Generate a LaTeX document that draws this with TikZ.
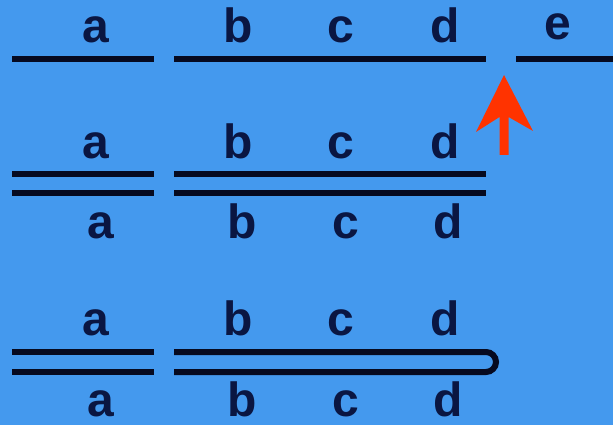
\documentclass[tikz,border=0pt]{standalone}
\usepackage{fontspec}
\setmainfont{Liberation Sans}
\definecolor{bg}{RGB}{68,153,238}
\definecolor{ink}{RGB}{10,22,66}
\definecolor{bar}{RGB}{6,10,32}
\definecolor{redarrow}{RGB}{255,51,0}
\begin{document}
\begin{tikzpicture}[x=1pt,y=-1pt,
  lbl/.style={anchor=base,inner sep=0pt,text=ink,font=\fontsize{48}{56}\selectfont\bfseries},
  bar/.style={draw=bar,line width=6pt}]
\fill[bg] (0,0) rectangle (613,425);
\useasboundingbox (0,0) rectangle (613,425);
% row 1
\node[lbl] (a1) at (96,43) {a};
\node[lbl] (b1) at (238,43) {b};
\node[lbl] (c1) at (341,43) {c};
\node[lbl] (d1) at (445,43) {d};
\node[lbl] (e1) at (558,40) {e};
\coordinate (r1a0) at (12,59); \coordinate (r1a1) at (154,59);
\coordinate (r1b0) at (174,59); \coordinate (r1b1) at (486,59);
\coordinate (r1e0) at (516,59); \coordinate (r1e1) at (613,59);
\draw[bar] (r1a0) -- (r1a1);
\draw[bar] (r1b0) -- (r1b1);
\draw[bar] (r1e0) -- (r1e1);
% red arrow
\fill[redarrow] (504,75) -- (533,131) -- (508.5,117) -- (508.5,155) -- (499.5,155) -- (499.5,117) -- (476,132) -- cycle;
% row 2
\node[lbl] (a2t) at (96,158) {a};
\node[lbl] (b2t) at (238,158) {b};
\node[lbl] (c2t) at (341,158) {c};
\node[lbl] (d2t) at (445,158) {d};
\node[lbl] (a2b) at (101,238) {a};
\node[lbl] (b2b) at (242,238) {b};
\node[lbl] (c2b) at (346,238) {c};
\node[lbl] (d2b) at (448,238) {d};
\coordinate (r2a0) at (12,173.5); \coordinate (r2a1) at (154,173.5);
\coordinate (r2b0) at (174,173.5); \coordinate (r2b1) at (486,173.5);
\coordinate (r2c0) at (12,193); \coordinate (r2c1) at (154,193);
\coordinate (r2d0) at (174,193); \coordinate (r2d1) at (486,193);
\draw[bar] (r2a0) -- (r2a1);
\draw[bar] (r2b0) -- (r2b1);
\draw[bar] (r2c0) -- (r2c1);
\draw[bar] (r2d0) -- (r2d1);
% row 3
\node[lbl] (a3t) at (96,335) {a};
\node[lbl] (b3t) at (238,335) {b};
\node[lbl] (c3t) at (341,335) {c};
\node[lbl] (d3t) at (445,335) {d};
\node[lbl] (a3b) at (101,416) {a};
\node[lbl] (b3b) at (242,416) {b};
\node[lbl] (c3b) at (346,416) {c};
\node[lbl] (d3b) at (448,416) {d};
\coordinate (r3a0) at (12,352); \coordinate (r3a1) at (154,352);
\coordinate (r3c0) at (12,372); \coordinate (r3c1) at (154,372);
\coordinate (r3b0) at (174,352); \coordinate (r3b1) at (486,352);
\coordinate (r3d0) at (174,372);
\draw[bar] (r3a0) -- (r3a1);
\draw[bar] (r3c0) -- (r3c1);
\draw[bar] (r3b0) -- (r3b1) arc[start angle=90,end angle=-90,radius=10pt] -- (r3d0);
\end{tikzpicture}
\end{document}
